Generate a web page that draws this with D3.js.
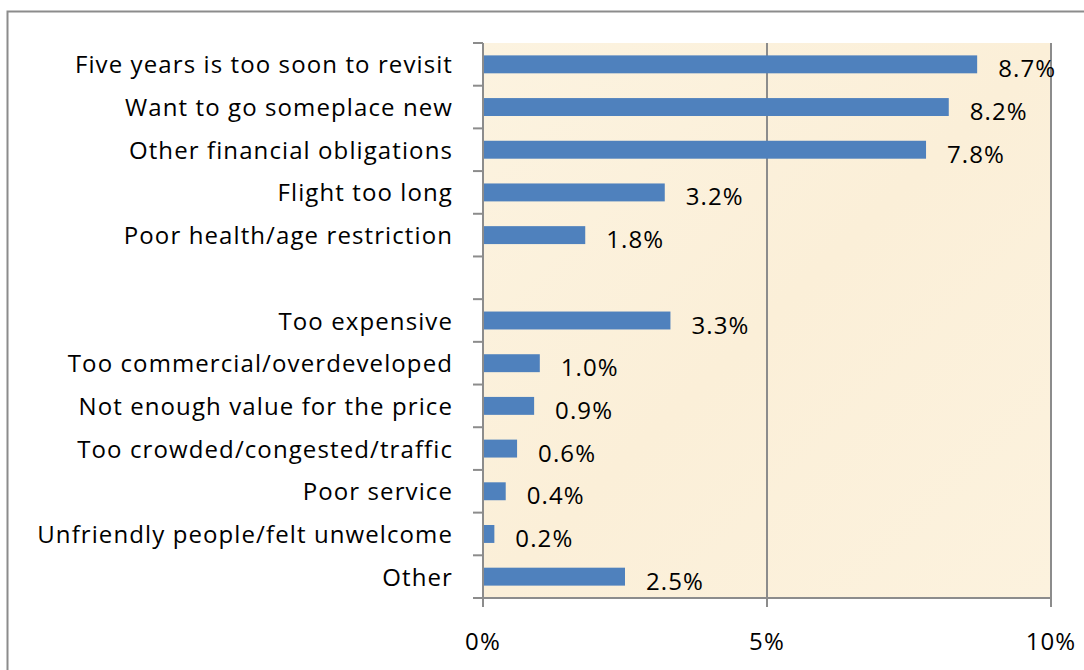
<!DOCTYPE html>
<html lang="en">
<head>
<meta charset="utf-8">
<title>Reasons for not revisiting</title>
<script src="https://d3js.org/d3.v7.min.js"></script>
<style>
  body { margin: 0; background: #fff; }
  svg { display: block; }
  text { font-family: "Open Sans", Lato, sans-serif; fill: #000; font-size: 24px; letter-spacing: 1.1px; }
</style>
</head>
<body>
<script>
// categories top to bottom, "" is the empty gap row
var reasons = [
  "Five years is too soon to revisit",
  "Want to go someplace new",
  "Other financial obligations",
  "Flight too long",
  "Poor health/age restriction",
  "",
  "Too expensive",
  "Too commercial/overdeveloped",
  "Not enough value for the price",
  "Too crowded/congested/traffic",
  "Poor service",
  "Unfriendly people/felt unwelcome",
  "Other"
];
var shares = [8.7, 8.2, 7.8, 3.2, 1.8, null, 3.3, 1.0, 0.9, 0.6, 0.4, 0.2, 2.5];
var xTicks = [0, 5, 10];

var w = 1084, h = 670;
var plot = { left: 483, right: 1051, top: 43, bottom: 598 };

var svg = d3.select("body").append("svg")
  .attr("width", w)
  .attr("height", h);

// outer chart frame (runs off right/bottom edge)
svg.append("rect")
  .attr("x", 7.5).attr("y", 11.5)
  .attr("width", w + 20).attr("height", h + 20)
  .attr("fill", "none")
  .attr("stroke", "#8c8c8c")
  .attr("stroke-width", 2);

var x = d3.scaleLinear().domain([0, 10]).range([plot.left, plot.right]);
var y = d3.scaleBand()
  .domain(d3.range(reasons.length))
  .range([plot.top, plot.bottom])
  .paddingInner(0.58)
  .paddingOuter(0.29);

// parchment background
var defs = svg.append("defs");
var grad = defs.append("linearGradient").attr("id", "paper")
  .attr("x1", 0).attr("y1", 0).attr("x2", 1).attr("y2", 1);
grad.append("stop").attr("offset", 0).attr("stop-color", "#fcf3e0");
grad.append("stop").attr("offset", 0.5).attr("stop-color", "#fbefd8");
grad.append("stop").attr("offset", 1).attr("stop-color", "#fcf2de");

svg.append("rect")
  .attr("x", plot.left).attr("y", plot.top)
  .attr("width", plot.right - plot.left)
  .attr("height", plot.bottom - plot.top)
  .attr("fill", "url(#paper)");

// vertical gridlines
svg.selectAll(".grid")
  .data(xTicks.slice(1))
  .enter().append("line")
  .attr("class", "grid")
  .attr("x1", function(d) { return x(d); })
  .attr("x2", function(d) { return x(d); })
  .attr("y1", plot.top).attr("y2", plot.bottom)
  .attr("stroke", "#8c8c8c").attr("stroke-width", 2);

var rows = shares.map(function(v, i) { return { v: v, i: i }; })
  .filter(function(d) { return d.v !== null; });

// bars
svg.selectAll(".bar")
  .data(rows)
  .enter().append("rect")
  .attr("class", "bar")
  .attr("x", x(0))
  .attr("y", function(d) { return y(d.i); })
  .attr("width", function(d) { return x(d.v) - x(0); })
  .attr("height", y.bandwidth())
  .attr("fill", "#4f81bd");

// value labels
svg.selectAll(".val")
  .data(rows)
  .enter().append("text")
  .attr("class", "val")
  .attr("x", function(d) { return x(d.v) + 21; })
  .attr("y", function(d) { return y(d.i) + y.bandwidth() / 2 + 13; })
  .text(function(d) { return d.v.toFixed(1) + "%"; });

// y axis with category labels
var step = y.step();
var yAxis = svg.append("g");
yAxis.append("line")
  .attr("x1", plot.left).attr("x2", plot.left)
  .attr("y1", plot.top).attr("y2", plot.bottom + 9)
  .attr("stroke", "#8c8c8c").attr("stroke-width", 2);
yAxis.selectAll(".tick")
  .data(d3.range(reasons.length + 1))
  .enter().append("line")
  .attr("x1", plot.left - 10).attr("x2", plot.left)
  .attr("y1", function(d) { return plot.top + d * step; })
  .attr("y2", function(d) { return plot.top + d * step; })
  .attr("stroke", "#8c8c8c").attr("stroke-width", 2);
yAxis.selectAll(".cat")
  .data(reasons)
  .enter().append("text")
  .attr("text-anchor", "end")
  .attr("x", plot.left - 30)
  .attr("y", function(d, i) { return y(i) + y.bandwidth() / 2 + 9; })
  .text(function(d) { return d; });

// x axis
svg.append("line")
  .attr("x1", plot.left).attr("x2", plot.right)
  .attr("y1", plot.bottom).attr("y2", plot.bottom)
  .attr("stroke", "#8c8c8c").attr("stroke-width", 2);
svg.selectAll(".xtick")
  .data(xTicks)
  .enter().append("line")
  .attr("x1", function(d) { return x(d); })
  .attr("x2", function(d) { return x(d); })
  .attr("y1", plot.bottom).attr("y2", plot.bottom + 9)
  .attr("stroke", "#8c8c8c").attr("stroke-width", 2);
svg.selectAll(".xlab")
  .data(xTicks)
  .enter().append("text")
  .attr("text-anchor", "middle")
  .attr("x", function(d) { return x(d); })
  .attr("y", plot.bottom + 52)
  .text(function(d) { return d + "%"; });
</script>
</body>
</html>
